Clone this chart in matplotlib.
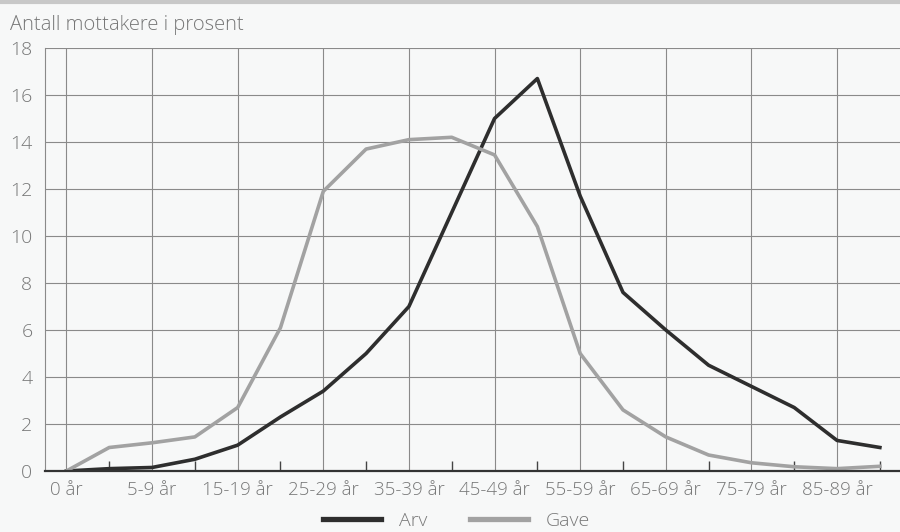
import matplotlib.pyplot as plt
import numpy as np

# age groups (only every other one is labelled on the axis)
ages = ['0 år', '1-4 år', '5-9 år', '10-14 år', '15-19 år', '20-24 år',
        '25-29 år', '30-34 år', '35-39 år', '40-44 år', '45-49 år', '50-54 år',
        '55-59 år', '60-64 år', '65-69 år', '70-74 år', '75-79 år', '80-84 år',
        '85-89 år', '90+ år']

arv = [0.0, 0.1, 0.15, 0.5, 1.1, 2.3, 3.4, 5.0, 7.0, 11.0, 15.0, 16.7,
       11.7, 7.6, 6.0, 4.5, 3.6, 2.7, 1.3, 1.0]
gave = [0.0, 1.0, 1.2, 1.45, 2.7, 6.1, 11.9, 13.7, 14.1, 14.2, 13.45, 10.4,
        5.0, 2.6, 1.45, 0.68, 0.35, 0.18, 0.1, 0.2]

plt.rcParams['font.family'] = ['Open Sans', 'DejaVu Sans']
plt.rcParams['font.weight'] = 'light'
txt = '#777777'
grid = '#8a8a8a'

fig = plt.figure(figsize=(9, 5.32), dpi=100)
fig.patch.set_facecolor('#f7f8f8')
ax = fig.add_axes([0.05, 1 - 471/532, 0.95, (471 - 48)/532])
ax.set_facecolor('#f7f8f8')

x = np.arange(len(ages))
ax.plot(x, arv, color='#2e2e2e', lw=2.6, label='Arv', zorder=3)
ax.plot(x, gave, color='#a2a2a2', lw=2.6, label='Gave', zorder=3)

ax.set_xlim(-0.5, 19.47)
ax.set_ylim(0, 18)
ax.set_yticks(np.arange(0, 19, 2))
ax.set_xticks(x[::2])
ax.set_xticklabels(ages[::2])
ax.set_xticks(x[1::2], minor=True)

ax.grid(True, which='major', color=grid, lw=0.8)
ax.tick_params(axis='x', which='major', length=0, pad=7, labelsize=13.5, labelcolor=txt)
ax.tick_params(axis='x', which='minor', direction='in', length=7, width=1, color='#444444')
ax.tick_params(axis='y', length=0, pad=9, labelsize=14, labelcolor=txt)

for s in ['top', 'right']:
    ax.spines[s].set_visible(False)
ax.spines['left'].set_color(grid)
ax.spines['left'].set_linewidth(0.8)
ax.spines['bottom'].set_color('#333333')
ax.spines['bottom'].set_linewidth(1.6)
ax.spines['bottom'].set_zorder(4)

fig.text(10/900, 1 - 25/532, 'Antall mottakere i prosent', fontsize=14.5,
         color=txt, va='center', ha='left')

# thin grey rule along the top edge
fig.add_artist(plt.Line2D([0, 1], [0.997, 0.997], color='#c8c8c8', lw=3,
                          transform=fig.transFigure))

leg = fig.legend(loc='center', bbox_to_anchor=(0.507, 1 - 521/532), ncol=2,
                 frameon=False, fontsize=14, handlelength=3.0,
                 columnspacing=2.2, handletextpad=0.9)
for t in leg.get_texts():
    t.set_color(txt)
for h in leg.get_lines():
    h.set_linewidth(3.8)

fig.savefig('out.png', dpi=100, facecolor=fig.get_facecolor())
